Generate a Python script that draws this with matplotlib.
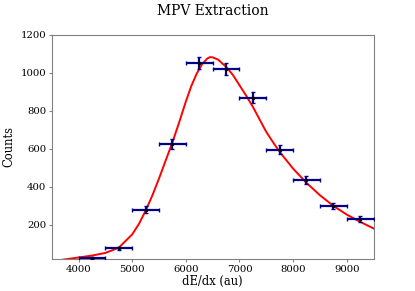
import numpy as np
import matplotlib
matplotlib.use("Agg")
import matplotlib.pyplot as plt

# binned data (bin centres, counts)
bin_centres = [4250, 4750, 5250, 5750, 6250, 6750, 7250, 7750, 8250, 8750, 9250]
counts = [26, 77, 280, 625, 1053, 1020, 870, 595, 435, 300, 230]
bin_halfwidth = 250

# fitted curve
fit_x = [3600, 3800, 4000, 4250, 4500, 4750, 5000, 5125, 5250, 5375, 5500,
         5625, 5750, 5875, 6000, 6100, 6200, 6300, 6400, 6450, 6500, 6600,
         6750, 6875, 7000, 7125, 7250, 7375, 7500, 7625, 7750, 8000, 8250,
         8500, 8750, 9000, 9250, 9500]
fit_y = [12, 20, 28, 38, 52, 80, 150, 205, 275, 355, 445,
         540, 635, 740, 850, 930, 995, 1045, 1076, 1083, 1082, 1070,
         1032, 990, 935, 880, 821, 755, 689, 635, 584, 496, 421,
         356, 300, 254, 216, 181]

plt.rcParams['font.family'] = 'DejaVu Serif'
plt.rcParams['font.size'] = 8.3

fig, ax = plt.subplots(figsize=(4.15, 2.91), dpi=100)
fig.subplots_adjust(left=0.125, right=0.9, bottom=0.11, top=0.88)

ax.errorbar(bin_centres, counts, xerr=bin_halfwidth, yerr=np.sqrt(counts),
            fmt='.', color='black', markersize=3, ecolor='darkblue',
            elinewidth=1.6, capsize=1.5, capthick=1.0, zorder=3)
ax.plot(fit_x, fit_y, color='red', linewidth=1.4, zorder=2)

ax.set_xlim(3500, 9500)
ax.set_ylim(20, 1200)
ax.set_xticks([4000, 5000, 6000, 7000, 8000, 9000])
ax.set_yticks([200, 400, 600, 800, 1000, 1200])
ax.set_xlabel("dE/dx (au)", labelpad=1)
ax.set_ylabel("Counts", labelpad=3.5)
ax.set_title("MPV Extraction", pad=14)

for spine in ax.spines.values():
    spine.set_color('gray')
ax.tick_params(color='gray', length=2, pad=2, labelsize=7.3)

plt.savefig("out.png", dpi=100)
